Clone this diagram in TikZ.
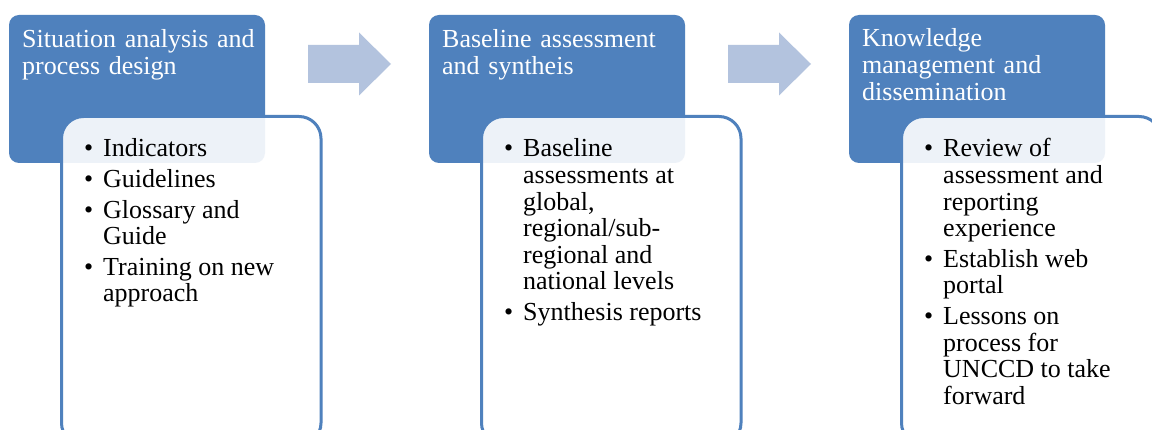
\documentclass[tikz,border=0pt]{standalone}
\usepackage{fontspec}
\setmainfont{Liberation Serif}
\definecolor{hdrblue}{HTML}{4F81BD}
\definecolor{arrowblue}{HTML}{B3C3DE}
% bullet item with a hanging indent
\newcommand\bul[1]{\par\hangindent=19pt\hangafter=1\noindent\makebox[19pt][l]{\textbullet}#1\par}
% list set in a top-aligned box, so the node's base is its first line
\newcommand\bulletlist[1]{\vtop{\hsize=240pt\fontsize{26}{26.6}\selectfont
  \parskip=4pt\parindent=0pt\rightskip=0pt plus 1fil\relax #1}}
\newcommand\hdrfont{\fontsize{26}{26.6}\selectfont}
\tikzset{
  header/.style={fill=hdrblue, draw=none, rounded corners=10pt},
  bodybox/.style={fill=white, fill opacity=0.9, draw=hdrblue, line width=3pt, rounded corners=22pt},
  hdrtext/.style={anchor=base west, inner sep=0pt, text=white, font=\hdrfont, align=left, text width=245pt},
  bodytext/.style={anchor=base west, inner sep=0pt, text=black},
  flowarrow/.style={fill=arrowblue, draw=none}
}
\begin{document}
\begin{tikzpicture}[x=1pt, y=-1pt]
\useasboundingbox (0,0) rectangle (1152,430);
\clip (0,0) rectangle (1152,430);
\fill[white] (0,0) rectangle (1152,430);

% step blocks: header panel with an overlapping content panel
\foreach \i/\ox in {1/0, 2/420, 3/840} {
  \path[header] (9+\ox,15) rectangle (265+\ox,163);
  \path[bodybox] (61.5+\ox,116.5) rectangle (321+\ox,445);
}

% block arrows between the steps
\foreach \ox in {0, 420} {
  \path[flowarrow] (308+\ox,45) -- (359+\ox,45) -- (359+\ox,32.5) -- (391+\ox,64)
    -- (359+\ox,95.5) -- (359+\ox,83) -- (308+\ox,83) -- cycle;
}

% headings
\node[hdrtext] (h1) at (22,48) {Situation analysis and\\process design};
\node[hdrtext] (h2) at (442,48) {Baseline assessment\\and syntheis};
\node[hdrtext] (h3) at (862,47) {Knowledge\\management and\\dissemination};

% content lists
\node[bodytext] (b1) at (84,157) {\bulletlist{%
  \bul{Indicators}
  \bul{Guidelines}
  \bul{Glossary and\newline Guide}
  \bul{Training on new\newline approach}}};
\node[bodytext] (b2) at (504,157) {\bulletlist{%
  \bul{Baseline\newline assessments at\newline global,\newline regional/sub-\newline regional and\newline national levels}
  \bul{Synthesis reports}}};
\node[bodytext] (b3) at (924,157) {\bulletlist{%
  \bul{Review of\newline assessment and\newline reporting\newline experience}
  \bul{Establish web\newline portal}
  \bul{Lessons on\newline process for\newline UNCCD to take\newline forward}}};
\end{tikzpicture}
\end{document}
